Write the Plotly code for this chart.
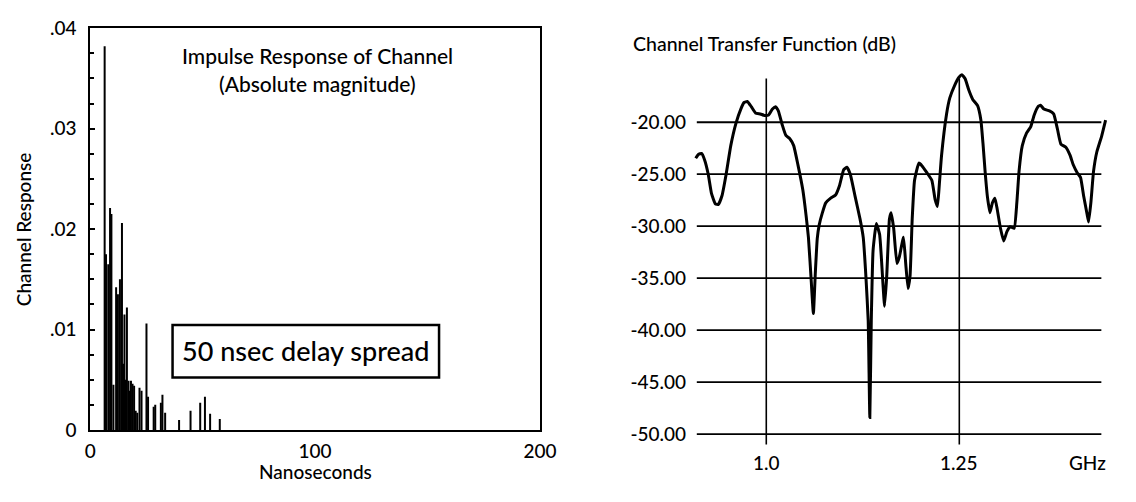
import plotly.graph_objects as go

W, H = 1136, 502

# ---------------- data: impulse response (left) ----------------
delay_ns = [6.4, 7.0, 8.0, 8.8, 9.4, 10.3, 11.5, 12.3, 13.2, 14.1, 14.6, 15.2, 15.7,
            16.3, 17.0, 17.6, 18.1, 18.8, 19.5, 20.2, 20.9, 21.9, 22.8, 25.0, 25.7,
            28.2, 28.9, 31.4, 32.1, 33.3, 39.5, 44.6, 48.9, 51.0, 53.3, 57.6]
magnitude = [0.0382, 0.0175, 0.0165, 0.0221, 0.0215, 0.0045, 0.0142, 0.0135, 0.0150, 0.0206,
             0.0066, 0.0115, 0.0050, 0.0122, 0.0049, 0.0039, 0.0049, 0.0046, 0.0044, 0.0019,
             0.0017, 0.0042, 0.0039, 0.0106, 0.0033, 0.0023, 0.0025, 0.0027, 0.0035, 0.0017,
             0.0010, 0.0019, 0.0027, 0.0033, 0.0016, 0.0011]

left_y_ticks = [0, 0.01, 0.02, 0.03, 0.04]
left_y_labels = ["0", ".01", ".02", ".03", ".04"]
left_x_ticks = [0, 100, 200]
left_x_labels = ["0", "100", "200"]

# ---------------- data: transfer function (right) ----------------
freq_ghz = [0.9086, 0.912, 0.9162, 0.920, 0.9248, 0.929, 0.934, 0.938, 0.9425, 0.948,
            0.954, 0.9607, 0.967, 0.9712, 0.9755, 0.9806, 0.986, 0.9924, 0.9975, 1.003,
            1.008, 1.012, 1.0156, 1.0207, 1.0254, 1.0305, 1.0355, 1.041, 1.0473, 1.0516,
            1.0546, 1.058, 1.061, 1.0635, 1.066, 1.0685, 1.0727, 1.077, 1.0834, 1.0897,
            1.0948, 1.1003, 1.1045, 1.1088, 1.1151, 1.1214, 1.1256, 1.129, 1.132, 1.1341,
            1.136, 1.1383, 1.1425, 1.1468, 1.151, 1.1532, 1.156, 1.1595, 1.1616, 1.165,
            1.1692, 1.1722, 1.1777, 1.1806, 1.1836, 1.1862, 1.189, 1.192, 1.1976, 1.2018,
            1.208, 1.2145, 1.2187, 1.2217, 1.2242, 1.227, 1.2335, 1.2377, 1.244, 1.2496,
            1.2534, 1.2576, 1.2623, 1.2674, 1.2737, 1.278, 1.2809, 1.2834, 1.2864, 1.2897,
            1.2928, 1.2961, 1.2991, 1.3033, 1.3075, 1.3118, 1.316, 1.3211, 1.3245, 1.3274,
            1.3316, 1.3372, 1.3426, 1.3468, 1.3519, 1.3553, 1.3595, 1.3668, 1.3722, 1.3773,
            1.3816, 1.388, 1.3934, 1.3976, 1.4027, 1.407, 1.4112, 1.4154, 1.4175, 1.4204,
            1.4239, 1.4281, 1.4344, 1.4395]
gain_db = [-23.47, -23.1, -23.0, -23.6, -25.0, -26.84, -27.85, -27.9, -27.1, -25.0,
           -22.25, -20.1, -18.73, -18.1, -18.0, -18.5, -19.1, -19.2, -19.34, -19.3,
           -18.73, -18.5, -18.9, -20.26, -21.27, -21.58, -22.25, -24.1, -26.5, -29.0,
           -31.1, -35.0, -38.4, -34.5, -31.2, -29.9, -28.7, -27.76, -27.3, -27.0,
           -26.1, -24.55, -24.33, -25.0, -27.15, -29.3, -31.1, -34.8, -39.1, -48.4,
           -39.1, -32.35, -29.75, -30.8, -35.4, -37.7, -34.8, -29.3, -28.7, -30.2,
           -33.6, -33.0, -31.07, -33.6, -36.0, -34.8, -29.3, -25.6, -23.93, -24.2,
           -24.85, -25.6, -27.45, -28.1, -25.9, -23.2, -19.2, -17.66, -16.44, -15.67,
           -15.43, -15.82, -16.9, -17.8, -18.4, -19.8, -22.25, -24.7, -27.15, -28.7,
           -27.76, -27.3, -28.37, -30.2, -31.43, -30.5, -30.06, -30.2, -27.76, -24.7,
           -22.25, -21.03, -20.41, -19.34, -18.5, -18.37, -18.73, -18.9, -19.2, -20.72,
           -22.1, -22.4, -23.17, -24.09, -24.85, -25.3, -27.15, -28.8, -29.6, -27.76,
           -24.7, -22.86, -21.33, -19.8]

right_db_ticks = [-20, -25, -30, -35, -40, -45, -50]
right_db_labels = ["-20.00", "-25.00", "-30.00", "-35.00", "-40.00", "-45.00", "-50.00"]
right_freq_ticks = [1.0, 1.25]
right_freq_labels = ["1.0", "1.25"]

FONT = "Lato"
WEIGHT = 500


def px(x):
    return x / W


def py(y):
    return 1 - y / H


def txt(text, x, y, size, xanchor="center", **kw):
    d = dict(text=text, x=px(x), y=py(y), xref="paper", yref="paper",
             xanchor=xanchor, yanchor="middle", showarrow=False,
             font=dict(size=size, family=FONT, weight=WEIGHT, color="black"))
    d.update(kw)
    return d


fig = go.Figure()

# impulse spikes
sx, sy = [], []
for t, v in zip(delay_ns, magnitude):
    sx += [t, t, None]
    sy += [0, v, None]
fig.add_trace(go.Scatter(x=sx, y=sy, mode="lines", line=dict(color="black", width=2),
                         xaxis="x", yaxis="y", showlegend=False, hoverinfo="skip"))

# transfer function curve
fig.add_trace(go.Scatter(x=freq_ghz, y=gain_db, mode="lines",
                         line=dict(color="black", width=3, shape="spline", smoothing=0.4),
                         xaxis="x2", yaxis="y2", showlegend=False))

shapes = []
for v in right_db_ticks:
    shapes.append(dict(type="line", xref="x2", yref="y2", x0=0.91, x1=1.434, y0=v, y1=v,
                       line=dict(color="black", width=1.8), layer="below"))
for f in right_freq_ticks:
    shapes.append(dict(type="line", xref="x2", yref="y2", x0=f, x1=f, y0=-51.0, y1=-15.8,
                       line=dict(color="black", width=1.6), layer="below"))
# box around the delay spread note
shapes.append(dict(type="rect", xref="paper", yref="paper", x0=px(170), x1=px(442),
                   y0=py(383), y1=py(328), line=dict(color="black", width=2.5),
                   fillcolor="white"))

annotations = [
    txt("Impulse Response of Channel", 318, 46, 21),
    txt("(Absolute magnitude)", 318, 75, 21),
    txt("50 nsec delay spread", 306, 355, 27),
    txt("Channel Response", 18, 228, 19, textangle=-90),
    txt("Nanoseconds", 316, 482, 19),
    txt("Channel Transfer Function (dB)", 638, 33, 19.5, xanchor="left"),
    txt("GHz", 1104, 472, 19),
]
for f, lab in zip(right_freq_ticks, right_freq_labels):
    annotations.append(dict(text=lab, x=f, y=py(472), xref="x2", yref="paper",
                            xanchor="center", yanchor="middle", showarrow=False,
                            font=dict(size=19, family=FONT, weight=WEIGHT, color="black")))

tickfont = dict(size=19, family=FONT, weight=WEIGHT, color="black")

fig.update_layout(
    width=W, height=H, margin=dict(l=0, r=0, t=0, b=0),
    paper_bgcolor="white", plot_bgcolor="white",
    font=dict(family=FONT, color="black", size=18),
    xaxis=dict(domain=[px(86), px(545)], range=[0, 200], tickvals=left_x_ticks,
               ticktext=left_x_labels, showline=True, linecolor="black", linewidth=2,
               mirror=True, ticks="", showgrid=False, zeroline=False, tickfont=tickfont,
               ticklabelstandoff=3, anchor="y"),
    yaxis=dict(domain=[py(438), py(17)], range=[0, 0.04], tickvals=left_y_ticks,
               ticktext=left_y_labels, showline=True, linecolor="black", linewidth=2,
               mirror=True, ticks="inside", ticklen=5, tickwidth=2, tickcolor="black",
               minor=dict(dtick=0.0025, ticks="inside", ticklen=4, tickwidth=1.5,
                          tickcolor="black", showgrid=False),
               showgrid=False, zeroline=False, tickfont=tickfont,
               ticklabelstandoff=8, anchor="x"),
    xaxis2=dict(domain=[px(697.2), px(1130.6)], range=[0.90, 1.45], showline=False,
                showticklabels=False, ticks="", showgrid=False, zeroline=False, anchor="y2"),
    yaxis2=dict(domain=[py(464.1), py(50.2)], range=[-52, -14], tickvals=right_db_ticks,
                ticktext=right_db_labels, showline=False, ticks="", showgrid=False,
                zeroline=False, tickfont=tickfont, ticklabelstandoff=2, anchor="x2"),
    shapes=shapes, annotations=annotations,
)

fig.write_html("out.html")
